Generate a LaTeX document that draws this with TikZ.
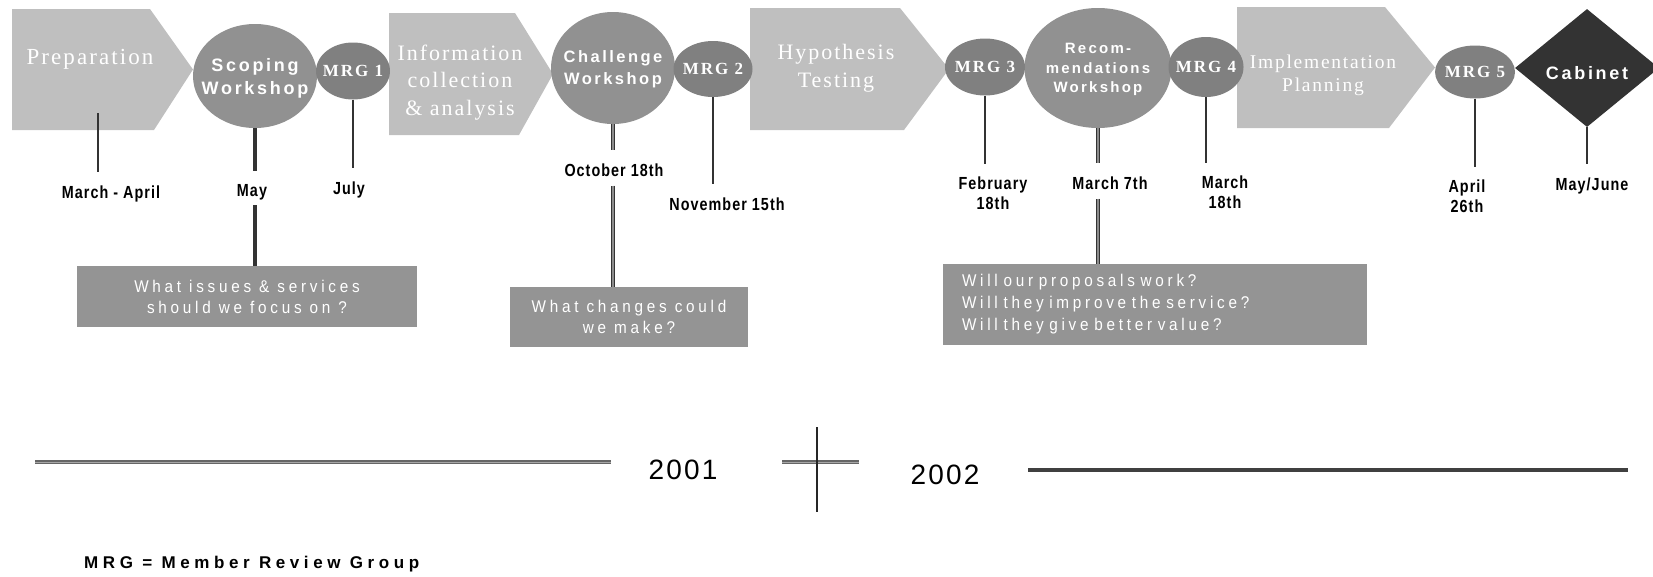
\documentclass[tikz,border=0pt]{standalone}
\usepackage{fontspec}
\usepackage{xcolor}
\usetikzlibrary{shapes.geometric}

\newfontfamily\stagefont{Liberation Serif}[LetterSpace=9]
\newfontfamily\wsfont{Liberation Sans}[LetterSpace=15]
\newfontfamily\mrgfont{Liberation Serif}[LetterSpace=12]
\newfontfamily\datefont{Liberation Sans}[FakeStretch=0.82, LetterSpace=6]
\newfontfamily\qfont{Liberation Sans}[FakeStretch=0.9, LetterSpace=22]
\newfontfamily\yearfont{Liberation Sans}[LetterSpace=8]
\newfontfamily\keyfont{Liberation Sans}[LetterSpace=27]

\definecolor{stagegray}{gray}{0.75}
\definecolor{wsgray}{gray}{0.57}
\definecolor{mrggray}{gray}{0.5}
\definecolor{boxgray}{gray}{0.58}
\definecolor{cabgray}{gray}{0.2}
\definecolor{tickgray}{gray}{0.2}

\tikzset{
  stage/.style={fill=stagegray},
  stagetxt/.style={text=white, align=center, inner sep=0, text depth=0pt},
  ws/.style={ellipse, fill=wsgray, text=white, inner xsep=-14pt, inner ysep=0, align=center, text depth=0pt},
  mrg/.style={ellipse, fill=mrggray, text=white, inner xsep=-12pt, inner ysep=0,
    font=\mrgfont\bfseries\fontsize{17}{20}\selectfont},
  cab/.style={diamond, fill=cabgray, text=white, inner sep=0, text height=23pt, text depth=0pt,
    minimum width=144, minimum height=118, font=\wsfont\bfseries\fontsize{18}{22}\selectfont},
  datelbl/.style={inner sep=0, align=center, text depth=0pt,
    font=\datefont\bfseries\fontsize{17.5}{19.5}\selectfont},
  tick/.style={draw=tickgray, line width=2.6, shorten >=13},
  dtick/.style={draw=tickgray, line width=1.8, double=black!45, double distance=1.2, shorten >=13},
  lowtick/.style={draw=tickgray, line width=4.5, shorten <=9},
  qbox/.style={fill=boxgray, text=white, inner sep=0, align=center, text depth=0pt,
    font=\qfont\fontsize{17}{21}\selectfont},
  year/.style={inner sep=0, text depth=0pt, font=\yearfont\fontsize{28}{30}\selectfont},
  yearline/.style={draw=black!60, double=black!35, line width=1.2, double distance=1},
}

\begin{document}
\begin{tikzpicture}[x=1pt, y=-1pt]
\useasboundingbox (0,0) rectangle (1653,576);

% Stage arrows
\foreach \xa/\xb/\xt/\ya/\yb in {12/150/193/9/130, 389/515/553/13/135, 750/900/949/8/130, 1237/1385/1435/7/128} {
    \fill[stage] (\xa,\ya) -- (\xb,\ya) -- (\xt,{(\ya+\yb)/2}) -- (\xb+4,\yb) -- (\xa,\yb) -- cycle;
}
\node[stagetxt, font=\stagefont\fontsize{23}{27}\selectfont] (prep) at (90,57) {Preparation};
\node[stagetxt, font=\stagefont\fontsize{22}{27.5}\selectfont] (info) at (460,80) {Information\\collection\\\& analysis};
\node[stagetxt, font=\stagefont\fontsize{22}{28}\selectfont] (hypo) at (836,66) {Hypothesis\\Testing};
\node[stagetxt, font=\stagefont\fontsize{19.5}{23}\selectfont] (impl) at (1323,73) {Implementation\\Planning};

% Workshops
\node[ws, minimum width=124, minimum height=104, font=\wsfont\bfseries\fontsize{18}{23}\selectfont] (scop) at (255,76) {Scoping\\Workshop};
\node[ws, minimum width=124, minimum height=112, font=\wsfont\bfseries\fontsize{16.5}{22}\selectfont] (chal) at (613,68) {Challenge\\Workshop};
\node[ws, minimum width=147, minimum height=120, font=\wsfont\bfseries\fontsize{15}{19.5}\selectfont] (reco) at (1098,68) {Recom-\\mendations\\Workshop};

% Member review groups
\foreach \i/\x/\y/\w/\h in {1/353/71/74/57, 2/713/69/79/56, 3/985/67/80/57, 4/1206/67/75/60, 5/1475/72/80/53} {
    \node[mrg, minimum width=\w, minimum height=\h] (m\i) at (\x,\y) {MRG \i};
}

\node[cab] (cab) at (1587,68) {Cabinet};

% Dates
\node[datelbl] (d1) at (111,192) {March - April};
\node[datelbl] (d2) at (252,190) {May};
\node[datelbl] (d3) at (349,188) {July};
\node[datelbl] (d4) at (614,170) {October 18th};
\node[datelbl] (d5) at (727,204) {November 15th};
\node[datelbl] (d6) at (993,193) {February\\18th};
\node[datelbl] (d7) at (1110,183) {March 7th};
\node[datelbl] (d8) at (1225,192) {March\\18th};
\node[datelbl] (d9) at (1467,196) {April\\26th};
\node[datelbl] (d10) at (1592,184) {May/June};

% Questions
\node[qbox, minimum width=340, minimum height=61] (q1) at (247,296.5) {What issues \& services\\should we focus on ?};
\node[qbox, minimum width=238, minimum height=60] (q2) at (629,317) {What changes could\\we make?};
\node[qbox, align=left, text width=386, text depth={}, inner xsep=19, minimum height=81, font=\qfont\fontsize{17}{22}\selectfont] (q3) at (1155,304.5) {Will our proposals work?\\Will they improve the service?\\Will they give better value?};

% Ticks
\coordinate (pt) at (98,113);
\draw[tick] (pt) -- (pt |- d1.north);
\draw[tick, line width=4.5] (scop.south) -- (scop.south |- d2.north);
\draw[tick] (m1.south) -- (m1.south |- d3.north);
\draw[dtick] (chal.south) -- (chal.south |- d4.north);
\draw[tick] (m2.south) -- (m2.south |- d5.north);
\draw[tick] (m3.south) -- (m3.south |- d6.north);
\draw[dtick] (reco.south) -- (reco.south |- d7.north);
\draw[tick] (m4.south) -- (m4.south |- d8.north);
\draw[tick] (m5.south) -- (m5.south |- d9.north);
\draw[tick] (cab.south) -- (cab.south |- d10.north);

\draw[lowtick] (scop.south |- d2.south) -- (scop.south |- q1.north);
\draw[lowtick, line width=1.8, double=black!45, double distance=1.2] (chal.south |- d4.south) -- (chal.south |- q2.north);
\draw[lowtick, line width=1.8, double=black!45, double distance=1.2] (reco.south |- d7.south) -- (reco.south |- q3.north);

% Years
\coordinate (la) at (35,462);
\coordinate (lb) at (611,462);
\node[year] (y1) at (683,470) {2001};
\coordinate (ca) at (817,427);
\coordinate (cb) at (817,512);
\coordinate (cc) at (782,462);
\coordinate (cd) at (859,462);
\node[year] (y2) at (945,475) {2002};
\coordinate (ra) at (1028,470);
\coordinate (rb) at (1628,470);

\draw[yearline] (la) -- (lb);
\draw[yearline] (cc) -- (cd);
\draw[black!85, line width=1.3] (ca) -- (cb);
\draw[black!75, line width=3.2] (ra) -- (rb);

\node[anchor=west, inner sep=0, font=\keyfont\bfseries\fontsize{17}{19}\selectfont] (key) at (84,564) {MRG = Member Review Group};

\end{tikzpicture}
\end{document}
